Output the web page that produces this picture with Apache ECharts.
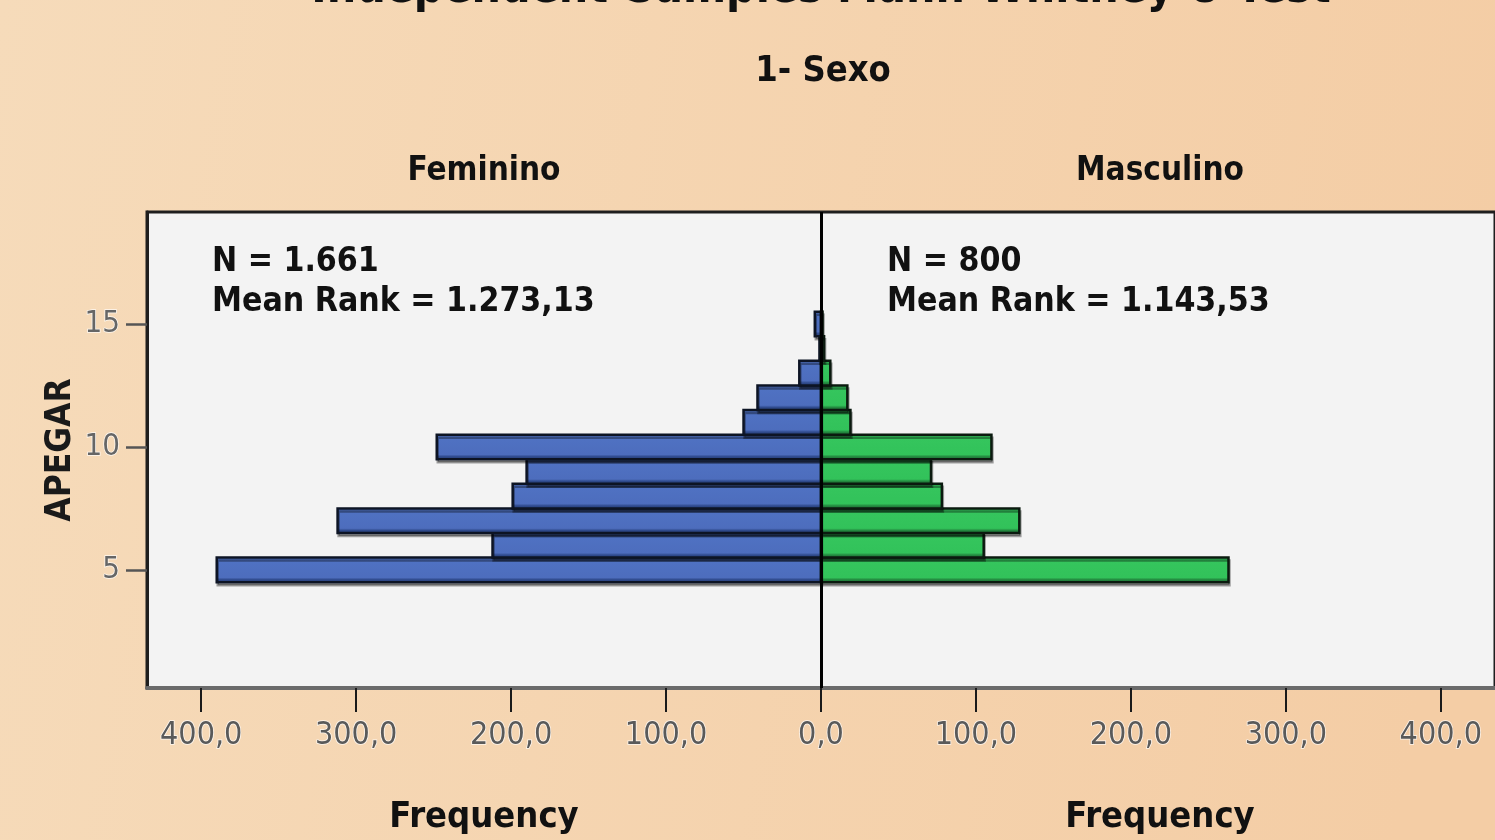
<!DOCTYPE html>
<html>
<head>
<meta charset="utf-8">
<script src="https://cdn.jsdelivr.net/npm/echarts@6/dist/echarts.min.js"></script>
<style>
  html, body { margin: 0; padding: 0; }
  #chart { width: 1495px; height: 840px; }
</style>
</head>
<body>
<div id="chart"></div>
<script>
// APEGAR score levels (one bar per level) and frequencies for each group
const apegarScores   = [5, 6, 7, 8, 9, 10, 11, 12, 13, 14, 15];
const femininoFreq   = [390, 212, 312, 199, 190, 248, 50, 41, 14, 1, 4];
const masculinoFreq  = [263, 105, 128, 78, 71, 110, 19, 17, 6, 2, 1];

// Axis ticks
const freqTicks  = [-400, -300, -200, -100, 0, 100, 200, 300, 400];
const scoreTicks = [5, 10, 15];

// Panel headings and test statistics
const groupNames = ['Feminino', 'Masculino'];
const groupN     = ['1.661', '800'];
const meanRanks  = ['1.273,13', '1.143,53'];

const FONT = '"DejaVu Sans Condensed", "DejaVu Sans", sans-serif';

function fmtFreq(v) {
  return Math.abs(v).toFixed(1).replace('.', ',');
}

function barGradient(top, mid, dark, bottom) {
  return new echarts.graphic.LinearGradient(0, 0, 0, 1, [
    { offset: 0, color: top },
    { offset: 0.78, color: mid },
    { offset: 0.86, color: dark },
    { offset: 1, color: bottom }
  ]);
}

// Each bar spans one score unit, from 0 to the (signed) frequency
function pyramidBar(fill, stroke) {
  return function (params, api) {
    const v = api.value(0);
    const s = api.value(1);
    const a = api.coord([0, s + 0.5]);
    const b = api.coord([v, s - 0.5]);
    return {
      type: 'rect',
      shape: {
        x: Math.min(a[0], b[0]),
        y: a[1],
        width: Math.abs(b[0] - a[0]),
        height: b[1] - a[1]
      },
      style: {
        fill: fill,
        stroke: stroke,
        lineWidth: 2.5,
        shadowColor: 'rgba(0,0,0,0.35)',
        shadowOffsetX: 1,
        shadowOffsetY: 3,
        shadowBlur: 0
      }
    };
  };
}

const chart = echarts.init(document.getElementById('chart'), null, { renderer: 'canvas' });

const option = {
  animation: false,
  backgroundColor: new echarts.graphic.LinearGradient(0, 0, 1, 0.3, [
    { offset: 0, color: '#f6dbba' },
    { offset: 1, color: '#f4cda5' }
  ]),
  grid: {
    left: 147, top: 212, width: 1350, height: 476,
    show: true,
    backgroundColor: '#f3f3f3',
    borderColor: '#1e1e1e',
    borderWidth: 3
  },
  xAxis: {
    type: 'value',
    min: -435, max: 435,
    axisLine: { show: true, onZero: false, lineStyle: { color: '#6a6a6a', width: 4 } },
    axisTick: {
      show: true, customValues: freqTicks, length: 24,
      lineStyle: { color: '#1a1a1a', width: 2 }
    },
    axisLabel: {
      customValues: freqTicks,
      formatter: fmtFreq,
      margin: 32,
      color: '#5a5a5a',
      fontFamily: FONT,
      fontSize: 32,
      textBorderColor: 'rgba(255,255,255,0.8)',
      textBorderWidth: 1.5
    },
    splitLine: { show: false }
  },
  yAxis: {
    type: 'value',
    min: 0.2, max: 19.55,
    axisLine: { show: true, onZero: false, lineStyle: { color: '#1e1e1e', width: 3 } },
    axisTick: {
      show: true, customValues: scoreTicks, length: 21,
      lineStyle: { color: '#555', width: 2.5 }
    },
    axisLabel: {
      customValues: scoreTicks,
      margin: 27,
      color: '#666',
      fontFamily: FONT,
      fontSize: 31,
      textBorderColor: 'rgba(255,255,255,0.8)',
      textBorderWidth: 1.5
    },
    splitLine: { show: false }
  },
  series: [
    {
      name: groupNames[0],
      type: 'custom',
      renderItem: pyramidBar(barGradient('#5073c4', '#4d6dbd', '#2f4a8c', '#263c70'), '#0d1424'),
      encode: { x: 0, y: 1 },
      data: femininoFreq.map((f, i) => [-f, apegarScores[i]]),
      z: 2,
      markLine: {
        silent: true,
        symbol: 'none',
        label: { show: false },
        lineStyle: { color: '#000', width: 3, type: 'solid' },
        data: [{ xAxis: 0 }],
        z: 5
      }
    },
    {
      name: groupNames[1],
      type: 'custom',
      renderItem: pyramidBar(barGradient('#36c65e', '#32c25a', '#23883f', '#1b6932'), '#0b1a0f'),
      encode: { x: 0, y: 1 },
      data: masculinoFreq.map((m, i) => [m, apegarScores[i]]),
      z: 2
    }
  ],
  graphic: [
    {
      type: 'text', x: 821, y: -33,
      style: {
        text: 'Independent-Samples Mann-Whitney U Test',
        font: 'bold 46px ' + FONT, fill: '#111', align: 'center'
      }
    },
    {
      type: 'text', x: 823, y: 72,
      style: {
        text: '1- Sexo', font: 'bold 36px ' + FONT, fill: '#111',
        align: 'center', verticalAlign: 'middle'
      }
    },
    {
      type: 'text', x: 484, y: 171,
      style: {
        text: groupNames[0], font: 'bold 33px ' + FONT, fill: '#111',
        align: 'center', verticalAlign: 'middle'
      }
    },
    {
      type: 'text', x: 1160, y: 171,
      style: {
        text: groupNames[1], font: 'bold 33px ' + FONT, fill: '#111',
        align: 'center', verticalAlign: 'middle'
      }
    },
    {
      type: 'text', x: 61, y: 450, rotation: Math.PI / 2,
      style: {
        text: 'APEGAR', font: 'bold 35px ' + FONT, fill: '#1a1a1a',
        align: 'center', verticalAlign: 'middle'
      }
    },
    {
      type: 'text', x: 212, y: 242, z: 10,
      style: {
        text: 'N = ' + groupN[0] + '\nMean Rank = ' + meanRanks[0],
        font: 'bold 33.5px ' + FONT, fill: '#111', lineHeight: 40
      }
    },
    {
      type: 'text', x: 887, y: 242, z: 10,
      style: {
        text: 'N = ' + groupN[1] + '\nMean Rank = ' + meanRanks[1],
        font: 'bold 33.5px ' + FONT, fill: '#111', lineHeight: 40
      }
    },
    {
      type: 'text', x: 484, y: 818,
      style: {
        text: 'Frequency', font: 'bold 36px ' + FONT, fill: '#111',
        align: 'center', verticalAlign: 'middle'
      }
    },
    {
      type: 'text', x: 1160, y: 818,
      style: {
        text: 'Frequency', font: 'bold 36px ' + FONT, fill: '#111',
        align: 'center', verticalAlign: 'middle'
      }
    }
  ]
};

chart.setOption(option);
</script>
</body>
</html>
